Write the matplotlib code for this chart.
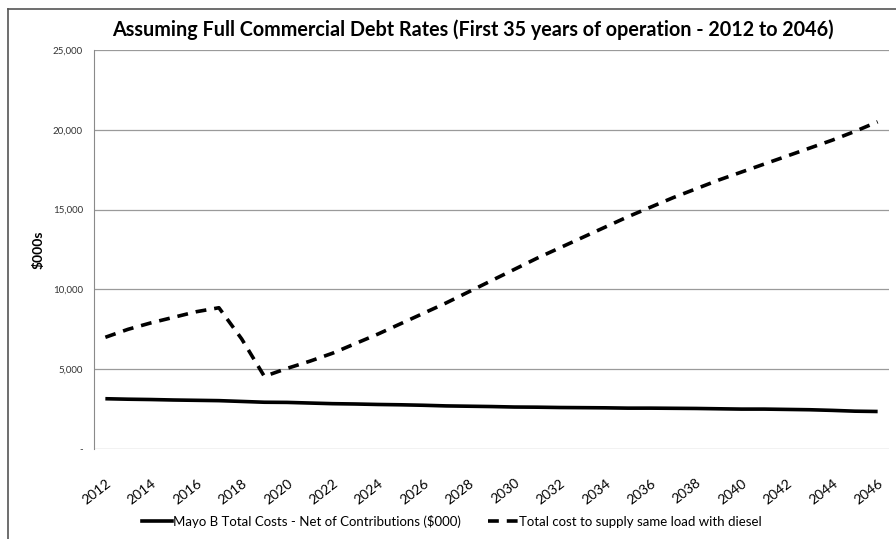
import matplotlib
matplotlib.use("Agg")
import matplotlib.pyplot as plt
from matplotlib.lines import Line2D

plt.rcParams['font.family'] = ['Lato', 'Open Sans', 'DejaVu Sans']

years = list(range(2012, 2047))
mayo_b = [3150, 3120, 3100, 3070, 3050, 3030, 2980, 2930, 2920, 2880,
          2840, 2820, 2790, 2770, 2740, 2700, 2680, 2660, 2630, 2620,
          2600, 2590, 2580, 2560, 2560, 2550, 2540, 2520, 2500, 2500,
          2480, 2460, 2420, 2370, 2350]
diesel = [7000, 7500, 7900, 8250, 8600, 8850, 6900, 4550, 5050, 5500,
          6000, 6600, 7200, 7850, 8500, 9150, 9850, 10550, 11250, 11950,
          12600, 13250, 13900, 14550, 15150, 15750, 16300, 16850, 17350, 17850,
          18350, 18850, 19350, 19900, 20500]

title = "Assuming Full Commercial Debt Rates (First 35 years of operation - 2012 to 2046)"
label_mayo = "Mayo B Total Costs - Net of Contributions ($000)"
label_diesel = "Total cost to supply same load with diesel"

fig = plt.figure(figsize=(8.96, 5.39), dpi=100)
ax = fig.add_axes([94 / 896, 1 - 449 / 539, 795 / 896, 399 / 539])

x = list(range(len(years)))
ax.plot(x, mayo_b, color="black", lw=2.6, solid_capstyle="butt")
ax.plot(x, diesel, color="black", lw=2.6, dashes=(3.0, 2.2), dash_capstyle="butt")

ax.set_xlim(-0.5, len(years) - 0.5)
ax.set_ylim(0, 25000)
ax.set_yticks(range(0, 25001, 5000))
ax.set_yticklabels(["-"] + [f"{v:,}" for v in range(5000, 25001, 5000)], fontsize=7, color="#333333")
ax.yaxis.grid(True, color="#9a9a9a", lw=0.9)
ax.set_axisbelow(True)

ticks = [i for i in x if years[i] % 2 == 0]
ax.set_xticks(ticks)
ax.set_xticklabels([str(years[i]) for i in ticks], rotation=38, ha="right",
                   rotation_mode="anchor", fontsize=10)
ax.tick_params(axis="y", length=0, pad=8)
ax.tick_params(axis="x", length=0, pad=20)

for s in ["top", "right", "bottom"]:
    ax.spines[s].set_visible(False)
ax.spines["left"].set_color("#8a8a8a")

ax.set_ylabel("$000s", fontsize=10, fontweight="bold", labelpad=6)
fig.text(473 / 896, 1 - 30 / 539, title, ha="center", va="center", fontsize=14.2, fontweight="bold")

handles = [Line2D([], [], color="black", lw=2.6),
           Line2D([], [], color="black", lw=2.6, dashes=(3.0, 2.2))]
fig.legend(handles, [label_mayo, label_diesel], loc="center", bbox_to_anchor=(452 / 896, 1 - 521 / 539),
           ncol=2, frameon=False, fontsize=9.5, handlelength=2.3, handletextpad=0.1, columnspacing=2.0,
           borderpad=0, borderaxespad=0)

# chart outer border
fig.add_artist(Line2D([8 / 896, 8 / 896], [0, 1 - 9 / 539], transform=fig.transFigure, color="#555555", lw=1.2))
fig.add_artist(Line2D([8 / 896, 1], [1 - 9 / 539, 1 - 9 / 539], transform=fig.transFigure, color="#555555", lw=1.2))

fig.savefig("out.png", dpi=100)
